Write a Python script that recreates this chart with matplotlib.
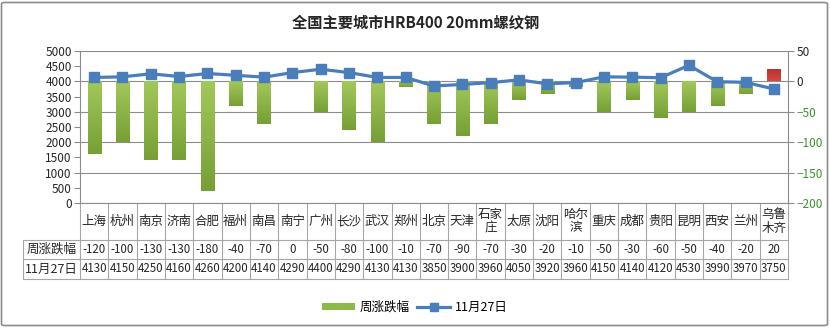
import numpy as np
import matplotlib
matplotlib.use("Agg")
import matplotlib.pyplot as plt
from matplotlib.patches import Patch, FancyBboxPatch
from matplotlib.lines import Line2D
from matplotlib.colors import LinearSegmentedColormap
from matplotlib.transforms import blended_transform_factory

plt.rcParams['font.family'] = ['Noto Sans CJK SC', 'DejaVu Sans']

# ── datos ────────────────────────────────────────────────────────────────────
cities = ["上海", "杭州", "南京", "济南", "合肥", "福州", "南昌", "南宁", "广州",
          "长沙", "武汉", "郑州", "北京", "天津", "石家\n庄", "太原", "沈阳",
          "哈尔\n滨", "重庆", "成都", "贵阳", "昆明", "西安", "兰州", "乌鲁\n木齐"]
change = [-120, -100, -130, -130, -180, -40, -70, 0, -50, -80, -100, -10, -70,
          -90, -70, -30, -20, -10, -50, -30, -60, -50, -40, -20, 20]
price = [4130, 4150, 4250, 4160, 4260, 4200, 4140, 4290, 4400, 4290, 4130, 4130,
         3850, 3900, 3960, 4050, 3920, 3960, 4150, 4140, 4120, 4530, 3990, 3970, 3750]
bar_label = "周涨跌幅"
line_label = "11月27日"
title = "全国主要城市HRB400 20mm螺纹钢"

W, H = 830, 328
GRAY = '#8c8c8c'
TXT = '#262626'
BLUE = '#4a7ebb'
green_cm = LinearSegmentedColormap.from_list("g", ["#a3c85a", "#76a035"])
red_cm = LinearSegmentedColormap.from_list("r", ["#d8463f", "#b8302c"])

fig = plt.figure(figsize=(W / 100, H / 100), dpi=100)
ax = fig.add_axes([80 / W, 1 - 203 / H, (788 - 80) / W, 152 / H])
ax2 = ax.twinx()
ax.set_zorder(2); ax2.set_zorder(1)
ax.patch.set_visible(False)

x = np.arange(len(cities))

# barras (eje derecho) con degradado
bars = ax2.bar(x, change, width=0.47, color="#8fb84a", linewidth=0, zorder=2)
for b, v in zip(bars, change):
    if v == 0:
        continue
    x0 = b.get_x(); x1 = x0 + b.get_width()
    y0, y1 = min(0, v), max(0, v)
    grad = np.linspace(0, 1, 64).reshape(-1, 1)
    if v < 0:
        grad = grad[::-1]
    im = ax2.imshow(grad, extent=[x0, x1, y0, y1], aspect='auto', origin='lower',
                    cmap=green_cm if v < 0 else red_cm, zorder=2.5,
                    interpolation='bilinear')
    im.set_clip_path(b)

# línea (eje izquierdo)
ax.plot(x, price, color=BLUE, lw=2.3, marker='s', ms=6.5, mfc=BLUE, mec=BLUE, zorder=3)

ax.set_xlim(-0.5, len(cities) - 0.5)
ax.set_ylim(0, 5000)
ax.set_yticks(range(0, 5001, 500))
ax2.set_ylim(-200, 50)
ax2.set_yticks(range(-200, 51, 50))
ax2.set_xlim(-0.5, len(cities) - 0.5)

ax2.yaxis.grid(True, color=GRAY, lw=0.8)
ax2.set_axisbelow(True)

for a in (ax, ax2):
    a.tick_params(axis='x', bottom=False, labelbottom=False)
    for s in a.spines.values():
        s.set_visible(False)
ax.spines['left'].set_visible(True); ax.spines['left'].set_color(GRAY)
ax.spines['bottom'].set_visible(True); ax.spines['bottom'].set_color(GRAY)
ax2.spines['right'].set_visible(True); ax2.spines['right'].set_color(GRAY)
ax.tick_params(axis='y', direction='out', length=4, color=GRAY, labelcolor=TXT,
               labelsize=8.5, pad=2)
ax2.tick_params(axis='y', direction='out', length=4, color=GRAY, labelcolor=TXT,
                labelsize=8.5, pad=2)
for t, v in zip(ax2.get_yticklabels(), range(-200, 51, 50)):
    if v < 0:
        t.set_color('#3f9030')

# ── tabla de datos ───────────────────────────────────────────────────────────
tr = blended_transform_factory(ax.transData, ax.transAxes)
col_w = (788 - 80) / len(cities)
lab_x0 = -0.5 - (80 - 23) / col_w
r1, r2, r3 = -37 / 152, -56 / 152, -76 / 152
TL = '#a6a6a6'

def seg(xs, ys):
    ax.add_line(Line2D(xs, ys, transform=tr, color=TL, lw=0.8, clip_on=False))

for i in range(len(cities) + 1):
    seg([i - 0.5, i - 0.5], [0, r3])
seg([lab_x0, lab_x0], [r1, r3])
for yy in (r1, r2, r3):
    seg([lab_x0, len(cities) - 0.5], [yy, yy])

for i, c in enumerate(cities):
    ax.text(i, r1 / 2, c, transform=tr, ha='center', va='center', fontsize=9,
            color=TXT, linespacing=1.05)
    ax.text(i, (r1 + r2) / 2, str(change[i]), transform=tr, ha='center',
            va='center', fontsize=8.3, color=TXT)
    ax.text(i, (r2 + r3) / 2, str(price[i]), transform=tr, ha='center',
            va='center', fontsize=8.3, color=TXT)
lab_xc = (lab_x0 - 0.5) / 2
ax.text(lab_xc, (r1 + r2) / 2, bar_label, transform=tr, ha='center', va='center',
        fontsize=9, color=TXT)
ax.text(lab_xc, (r2 + r3) / 2, line_label, transform=tr, ha='center', va='center',
        fontsize=9, color=TXT)

# ── título, leyenda, marco ───────────────────────────────────────────────────
fig.text(416 / W, 1 - 22 / H, title, ha='center', va='center', fontsize=11,
         fontweight='bold', color=TXT)

handles = [Patch(facecolor="#8fb84a", edgecolor='none', label=bar_label),
           Line2D([], [], color=BLUE, lw=2.3, marker='s', ms=6, label=line_label)]
fig.legend(handles=handles, loc='center', bbox_to_anchor=(415 / W, 1 - 307 / H),
           ncol=2, frameon=False, fontsize=9, handlelength=2.6, handleheight=0.5,
           columnspacing=0.6, handletextpad=0.4)

fig.patches.append(FancyBboxPatch((1.5 / W, 2.5 / H), (W - 4) / W, (H - 5) / H,
                                  boxstyle="round,pad=0,rounding_size=0.004",
                                  transform=fig.transFigure, fill=False,
                                  ec=GRAY, lw=1.2))

fig.savefig("out.png", dpi=100)
